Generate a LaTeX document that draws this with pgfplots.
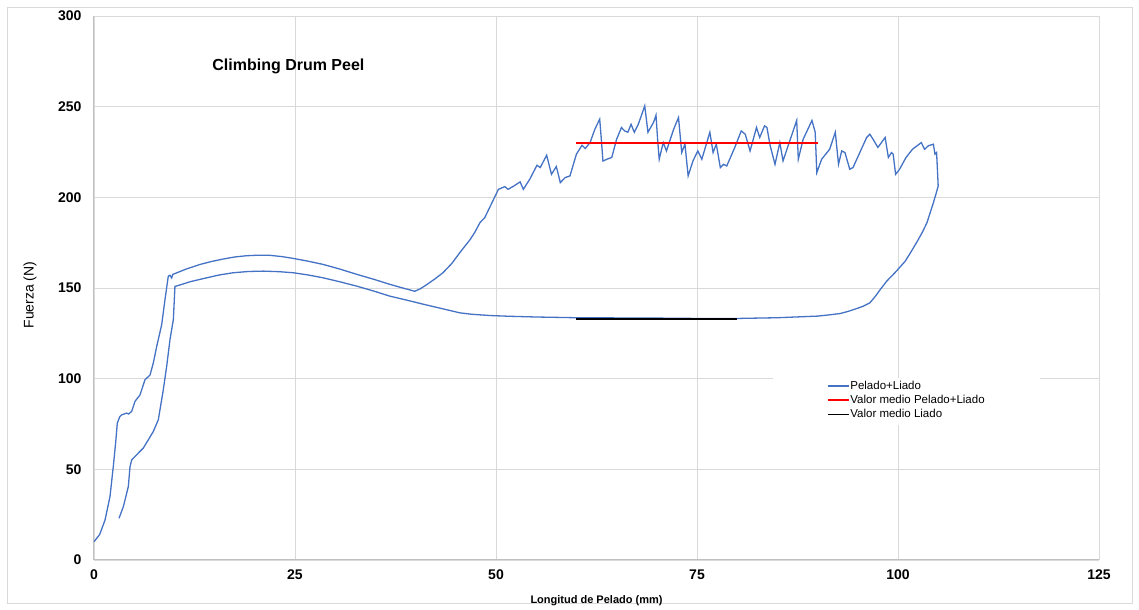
\documentclass[border=0pt]{standalone}
\usepackage{fontspec}
\setmainfont{Liberation Sans}
\usepackage{pgfplots}
\pgfplotsset{compat=1.18}
\definecolor{serie}{HTML}{4472C4}
\definecolor{gridc}{HTML}{D9D9D9}
\definecolor{axisc}{HTML}{BFBFBF}
\begin{document}
\begin{tikzpicture}[x=1bp,y=1bp]
\useasboundingbox (-94,-50) rectangle (1045,560);
\draw[gridc, line width=0.8bp] (-87,-43) rectangle (1038,553);
\begin{axis}[
  at={(0,0)}, anchor=south west,
  scale only axis, width=1005bp, height=544bp,
  xmin=0, xmax=125, ymin=0, ymax=300,
  xtick={0,25,50,75,100,125}, ytick={0,50,100,150,200,250,300},
  grid=major, major grid style={gridc, line width=0.8bp},
  axis x line*=bottom, axis y line*=left,
  axis line style={axisc, line width=1bp, -},
  tick style={draw=none},
  /pgf/number format/assume math mode=true,
  ticklabel style={font=\fontsize{14bp}{16bp}\selectfont\bfseries},
  xticklabel style={yshift=-6bp},
  yticklabel style={xshift=-9bp},
  xlabel={Longitud de Pelado (mm)},
  xlabel style={at={(axis description cs:0.5,-0.0745)}, anchor=center, font=\fontsize{11bp}{13bp}\selectfont\bfseries},
  ylabel={Fuerza (N)},
  ylabel style={at={(axis description cs:-0.0637,0.487)}, anchor=center, font=\fontsize{14bp}{16bp}\selectfont},
  legend style={at={(axis cs:91.0,100)}, anchor=north west, draw=none, fill=none,
    font=\fontsize{11.5bp}{13bp}\selectfont, row sep=2.5bp, inner sep=1bp,
    nodes={inner sep=1bp}},
  legend cell align=left,
  legend image code/.code={\draw[#1, line width=1.5bp] (0bp,0bp) -- (21bp,0bp);},
]
\fill[white] (axis cs:84.5,100.6) rectangle (axis cs:117.7,74.6);
\addplot[serie, line width=1.3bp] coordinates {
(0,10.1) (0.7,14) (1.37,22) (1.99,35) (2.4,51.5) (2.7,65) (2.9,75.5) (3.2,79) (3.44,80) (4.06,81) (4.3,80.5) (4.69,82) (5.1,87.5) (5.72,91) (6.34,99.4) (6.97,102) (7.38,108.7) (7.8,117.8) (8.42,129.8) (8.83,143.6) (9.24,156.5) (9.45,157) (9.66,155.6) (9.8,157.5)
(11.5,160.5) (13.2,163) (14.6,164.6) (16.1,166) (17.5,167.1) (19,167.8) (20.5,168.1) (21.9,168) (23.4,167.3) (24.8,166.3) (26.6,164.8) (28.5,163) (30.6,160.4) (32.7,157.5) (34.8,154.8) (36.8,152) (38.4,150) (39.9,148.2) (40.6,149.6) (41.4,151.9) (42.4,155) (43.4,158.4) (44.5,163.5) (45.5,169.5) (46.8,176.8) (47.4,181) (48,186) (48.6,188.8) (49.3,195.2) (50.3,204.4) (51.1,205.9) (51.5,204.4) (52.2,206.2) (53,208.5) (53.4,204.4) (54.2,210) (55.1,217.7) (55.5,216.4) (56.3,223.2) (56.9,212.7) (57.5,217) (58,208.1) (58.6,210.9) (59.2,211.8) (60,223.8) (60.7,228.7) (61.1,226.9) (61.7,230.2) (62.3,237.6) (62.9,243.1) (63.1,232) (63.3,220) (63.8,221) (64.4,222) (65,232) (65.6,238.5) (66,236.6) (66.4,235.9) (66.8,240.3) (67.2,235.9) (67.7,240.3) (68.5,250.4) (68.9,235.9) (69.6,241.4) (69.9,245.3) (70.1,232) (70.3,221) (70.8,230.2) (71.2,225.6) (72.1,237.6) (72.7,244) (73.1,224.7) (73.5,229.3) (73.9,211.8) (74.5,220.1) (75.1,225.6) (75.6,221) (76.6,235.9) (77,224.7) (77.4,229.3) (77.9,216.4) (78.3,218.2) (78.7,217.3) (79.7,227.5) (80.5,236.6) (81,234.8) (81.6,225.6) (82.4,238.5) (82.8,233) (83.4,239.4) (83.7,238.5) (84.1,228.5) (84.7,218.2) (85.3,230.2) (85.7,220.1) (87.4,242.4) (87.6,221) (88.2,232) (89.3,242.4) (89.7,235.9) (89.9,213.6) (90.5,221) (91.5,226.5) (92.2,235.9) (92.6,218.2) (93,225.6) (93.4,224.7) (94,215.5) (94.4,216.4) (96.1,233) (96.5,234.8) (96.9,232) (97.5,227.5) (98.4,233) (98.8,222) (99.2,224.7) (99.4,223.8) (99.7,212.7) (100.2,215.5) (101,222) (101.8,226.5) (102.9,230.2) (103.3,226.5) (103.8,228.5) (104.4,229.3) (104.6,223.8) (104.8,224.7) (105,206.2)
(104.7,201.5) (104.4,197) (104,191.5) (103.6,186) (103,180.5) (102.3,175) (101.6,169.8) (100.9,164.8) (100.3,161.8) (99.8,159.3) (99.2,156.5) (98.6,153.8) (97.8,149.2) (97.2,145.5) (96.5,141.8) (95.7,140) (94.9,138.7) (93.8,137.1) (92.8,135.9) (91.3,135.1) (90,134.5) (85,133.6) (80,133.2) (75,133.2) (70,133.4) (65,133.5) (60,133.6) (55,134) (51.7,134.4) (49.3,134.8) (47,135.5) (45.5,136.3) (43.3,138.6) (41,141) (39,143.2) (36.8,145.5) (34.8,148.3) (32.7,151) (30.6,153.4) (28.5,155.6) (26.6,157.2) (24.8,158.4) (23,159) (21.1,159.3) (19.2,159.1) (17.3,158.4) (15.6,157.2) (14,155.6) (12,153.5) (10.2,151)
(10.07,151) (9.87,132.6) (9.45,121.5) (9.04,106.8) (8.62,93.9) (8.0,77.3) (7.38,70.9) (6.76,66.3) (6.13,61.7) (5.3,58) (4.69,55.2) (4.48,51.5) (4.27,40.5) (3.65,29.4) (3.11,23)
};
\addlegendentry{Pelado+Liado}
\addplot[red, line width=2bp] coordinates {(60,230) (90,230)};
\addlegendentry{Valor medio Pelado+Liado}
\addplot[black, line width=2bp] coordinates {(60,133.1) (80,133.1)};
\addlegendentry{Valor medio Liado}
\node[anchor=west, font=\fontsize{16bp}{18bp}\selectfont\bfseries, inner sep=0pt] at (axis cs:14.7,272.4) {Climbing Drum Peel};
\end{axis}
\end{tikzpicture}
\end{document}
